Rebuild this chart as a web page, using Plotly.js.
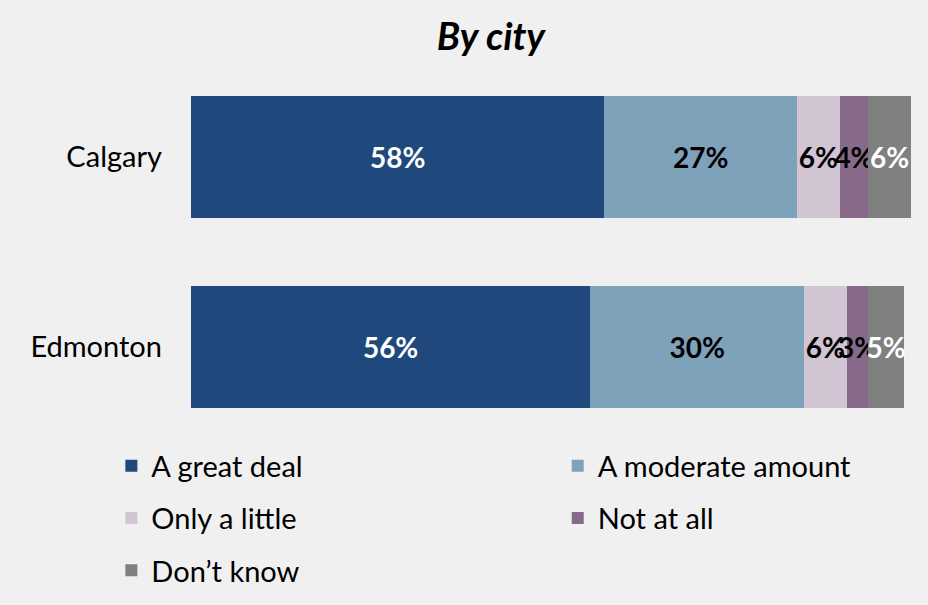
<!DOCTYPE html>
<html>
<head>
<meta charset="utf-8">
<script src="https://cdn.plot.ly/plotly-3.0.1.min.js"></script>
<style>html,body{margin:0;padding:0;background:#f0f0f0;}#chart{width:928px;height:605px;}</style>
</head>
<body>
<div id="chart"></div>
<script>
const cities = ["Calgary", "Edmonton"];
const seriesNames = ["A great deal", "A moderate amount", "Only a little", "Not at all", "Don\u2019t know"];
const greatDeal = [58, 56];
const moderate = [27, 30];
const onlyLittle = [6, 6];
const notAtAll = [4, 3];
const dontKnow = [6, 5];

const seriesValues = [greatDeal, moderate, onlyLittle, notAtAll, dontKnow];
const colors = ["#1f497d", "#7fa2bb", "#d1c4d3", "#876a8a", "#808080"];
const textColors = ["#ffffff", "#000000", "#000000", "#000000", "#ffffff"];
const legendIds = ["legend", "legend2", "legend", "legend2", "legend"];

const traces = seriesValues.map((vals, i) => ({
  type: "bar",
  orientation: "h",
  name: seriesNames[i],
  legend: legendIds[i],
  legendgroup: "g" + i,
  y: cities,
  x: vals,
  marker: {color: colors[i], line: {width: 0}},
  text: vals.map(v => v + "%"),
  textposition: "inside",
  insidetextanchor: "middle",
  textangle: 0,
  constraintext: "none",
  textfont: {family: "Lato, sans-serif", size: 28, color: textColors[i], weight: "bold"},
  hoverinfo: "skip"
}));

const legendCommon = {
  orientation: "v",
  xref: "container", yref: "container",
  xanchor: "left",
  y: 0.272, yanchor: "top",
  traceorder: "grouped",
  tracegroupgap: 11.5,
  font: {family: "Lato, sans-serif", size: 29, color: "#000000"},
  bgcolor: "rgba(0,0,0,0)",
  itemclick: false, itemdoubleclick: false
};

const layout = {
  width: 928,
  height: 605,
  paper_bgcolor: "#f0f0f0",
  plot_bgcolor: "#f0f0f0",
  barmode: "stack",
  bargap: 0.363,
  font: {family: "Lato, sans-serif", color: "#000000"},
  title: {
    text: "<b><i>By city</i></b>",
    font: {family: "Lato, sans-serif", size: 38, color: "#000000"},
    x: 0.529, xref: "container", xanchor: "center",
    y: 0.94, yref: "container", yanchor: "middle"
  },
  margin: {l: 191, r: 17, t: 62, b: 163, pad: 0, autoexpand: false},
  xaxis: {range: [0, 101], visible: false, showgrid: false, zeroline: false, fixedrange: true},
  yaxis: {
    autorange: "reversed",
    showgrid: false, zeroline: false, showline: false,
    ticks: "", ticklabelstandoff: 28,
    tickfont: {family: "Lato, sans-serif", size: 29, color: "#000000"}
  },
  showlegend: true,
  legend: Object.assign({}, legendCommon, {x: 0.12}),
  legend2: Object.assign({}, legendCommon, {x: 0.601})
};

Plotly.newPlot("chart", traces, layout, {displayModeBar: false, staticPlot: true});
</script>
</body>
</html>
